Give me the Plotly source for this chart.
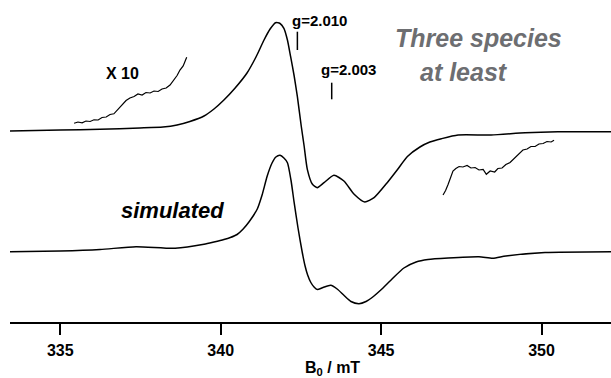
import plotly.graph_objects as go

# ---- data (B0 in mT, intensity in arbitrary units relative to each baseline) ----
exp_B = [333.43, 335.00, 336.24, 337.48, 338.20, 338.64, 339.04, 339.48, 339.79, 340.10,
         340.45, 340.82, 341.10, 341.35, 341.54, 341.71, 341.85, 341.97, 342.08, 342.18,
         342.29, 342.39, 342.51, 342.60, 342.70, 342.86, 343.01, 343.22, 343.53, 343.84,
         344.16, 344.49, 344.78, 345.19, 345.50, 345.82, 346.21, 346.52, 346.88, 347.40,
         348.43, 349.49, 350.51, 352.17]
exp_I = [0, 1, 1.7, 3, 4, 6, 9.5, 15, 22, 31,
         43, 58, 74, 91, 102, 108.3, 107.5, 102.7, 91, 74.3,
         55, 34.3, 5, -15, -38.3, -53.3, -56.7, -51.7, -44.3, -50,
         -63.3, -71, -66.7, -51.7, -39, -25.5, -16, -11, -7.7, -4,
         -4, -1.7, -0.7, -0.7]

sim_B = [333.43, 335.00, 336.24, 337.36, 338.58, 339.48, 339.79, 340.10, 340.30, 340.51,
         340.70, 340.88, 341.14, 341.29, 341.45, 341.60, 341.72, 341.85, 341.97, 342.08,
         342.19, 342.29, 342.41, 342.54, 342.63, 342.71, 342.81, 342.91, 343.01, 343.19,
         343.43, 343.63, 343.84, 344.06, 344.31, 344.53, 344.72, 344.99, 345.34, 345.71,
         346.09, 346.46, 347.09, 348.05, 348.48, 348.89, 350.11, 352.17]
sim_I = [-0.7, 0, 1.5, 4.3, 2.7, 6.7, 9, 11.5, 13.5, 16.5,
         22, 29, 42, 56, 75, 88, 94, 95.7, 93, 88.3,
         71, 48.3, 23, -1, -15, -24, -31.5, -36, -38.5, -36.5,
         -34.3, -38, -44.3, -50.5, -52.7, -50.5, -46.5, -39, -28, -17,
         -11, -8.5, -7, -5.7, -7.3, -5, -1.5, -0.7]

# x10 magnified portions of the experimental spectrum
x10a_B = [335.43, 335.55, 335.68, 335.80, 335.93, 336.05, 336.18, 336.30, 336.43, 336.55,
          336.67, 336.80, 336.92, 337.05, 337.17, 337.30, 337.42, 337.55, 337.67, 337.80,
          337.92, 338.05, 338.17, 338.30, 338.42, 338.54, 338.64, 338.73, 338.83, 338.94]
x10a_I = [7.7, 9.0, 8.2, 10.0, 9.5, 11.2, 11.0, 13.5, 14.0, 16.5,
          17.2, 21.5, 25.5, 30.5, 33.0, 34.5, 37.0, 36.0, 38.5, 38.0,
          40.0, 39.5, 42.0, 43.0, 46.0, 51.0, 55.5, 61.0, 65.0, 73.7]
x10b_B = [346.93, 347.01, 347.09, 347.16, 347.24, 347.33, 347.43, 347.55, 347.68, 347.80,
          347.93, 348.05, 348.18, 348.28, 348.40, 348.54, 348.64, 348.77, 348.89, 349.02,
          349.17, 349.30, 349.42, 349.55, 349.67, 349.80, 349.92, 350.05, 350.17, 350.30,
          350.39]
x10b_I = [-64, -59.5, -53.3, -48, -40, -37.5, -35.5, -36, -34.5, -37,
          -36.5, -39, -38.5, -43.3, -40, -41, -37.5, -37, -33.5, -31.5,
          -26.7, -22, -19, -18, -15.5, -15.5, -13, -12.5, -10.5, -11,
          -9.3]

g_labels = ["g=2.010", "g=2.003"]
g_B = [342.39, 343.46]
tick_vals = [335, 340, 345, 350]

# ---- layout helpers (display offsets) ----
exp_off = 191
sim_off = 71
FONT = "Liberation Sans, Arial, Helvetica, sans-serif"

fig = go.Figure()
fig.add_trace(go.Scatter(x=exp_B, y=[v + exp_off for v in exp_I], mode="lines",
                         line=dict(color="black", width=1.5, shape="spline", smoothing=0.6)))
fig.add_trace(go.Scatter(x=sim_B, y=[v + sim_off for v in sim_I], mode="lines",
                         line=dict(color="black", width=1.5, shape="spline", smoothing=0.6)))
fig.add_trace(go.Scatter(x=x10a_B, y=[v + exp_off for v in x10a_I], mode="lines",
                         line=dict(color="black", width=1.2)))
fig.add_trace(go.Scatter(x=x10b_B, y=[v + exp_off for v in x10b_I], mode="lines",
                         line=dict(color="black", width=1.2)))

# g markers
fig.add_shape(type="line", x0=g_B[0], x1=g_B[0], y0=272, y1=290.3,
              line=dict(color="black", width=1.5))
fig.add_shape(type="line", x0=g_B[1], x1=g_B[1], y0=222.7, y1=239.3,
              line=dict(color="black", width=1.5))

def ann(text, x, y, size, color="black", italic=False, xanchor="left", yref="y"):
    fig.add_annotation(text=text, x=x, y=y, xref="x", yref=yref, showarrow=False,
                       xanchor=xanchor, yanchor="middle",
                       font=dict(family=FONT, size=size, color=color, weight="bold",
                                 style="italic" if italic else "normal"))

ann(g_labels[0], 342.16, 301.3, 15)
ann(g_labels[1], 343.06, 252.3, 15)
ann("X 10", 336.94, 248.6, 16, xanchor="center")
ann("Three species", 348.04, 284, 25, color="#6d6e71", italic=True, xanchor="center")
ann("at least", 347.57, 249.7, 25, color="#6d6e71", italic=True, xanchor="center")
ann("simulated", 336.83, 112, 22, italic=True)
ann("B<sub>0</sub> / mT", 343.50, -0.143, 16, xanchor="center", yref="paper")

fig.update_xaxes(range=[333.432, 352.166], tickvals=tick_vals,
                 ticktext=[str(t) for t in tick_vals],
                 ticks="outside", ticklen=11, tickwidth=1.5, tickcolor="black",
                 ticklabelstandoff=2,
                 showline=True, linewidth=1.5, linecolor="black",
                 showgrid=False, zeroline=False,
                 tickfont=dict(family=FONT, size=16, color="black", weight="bold"))
fig.update_yaxes(range=[0, 322], visible=False)

fig.update_layout(width=611, height=378, margin=dict(l=10, r=0, t=0, b=56),
                  plot_bgcolor="white", paper_bgcolor="white", showlegend=False)

fig.write_html("out.html", config={"displayModeBar": False},
               post_script="document.body.style.margin='0';")
